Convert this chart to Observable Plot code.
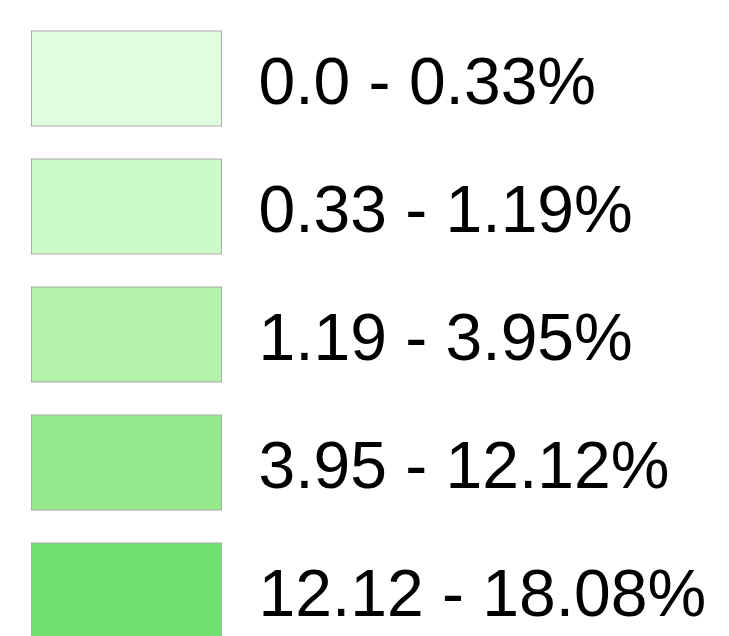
<!DOCTYPE html>
<html>
<head>
<meta charset="utf-8">
<script src="https://cdn.jsdelivr.net/npm/d3@7"></script>
<script src="https://cdn.jsdelivr.net/npm/@observablehq/plot@0.6"></script>
<style>
  html, body { margin: 0; padding: 0; background: #fff; }
  svg { display: block; }
</style>
</head>
<body>
<div id="chart"></div>
<script>
const labels = ["0.0 - 0.33%", "0.33 - 1.19%", "1.19 - 3.95%", "3.95 - 12.12%", "12.12 - 18.08%"];
const colors = ["#e0fde0", "#ccf9c8", "#b2f2aa", "#95e88b", "#6fe06f"];

const rows = labels.map((label, i) => ({label, color: colors[i]}));

const chart = Plot.plot({
  width: 729,
  height: 636,
  margin: 0,
  style: {background: "#ffffff", fontFamily: "Liberation Sans, Arial, sans-serif"},
  x: {domain: [0, 1], range: [31.5, 221.5], axis: null},
  y: {domain: labels, range: [31, 640], paddingInner: 0.2607, paddingOuter: 0, align: 0, axis: null},
  marks: [
    Plot.barX(rows, {y: "label", x1: 0, x2: 1, fill: "color", stroke: "#aaaaaa", strokeWidth: 1}),
    Plot.text(rows, {y: "label", x: () => 1, text: "label", textAnchor: "start", dx: 36.5, dy: 4, fontSize: 66, fill: "#000000"})
  ]
});
document.getElementById("chart").appendChild(chart);
</script>
</body>
</html>
